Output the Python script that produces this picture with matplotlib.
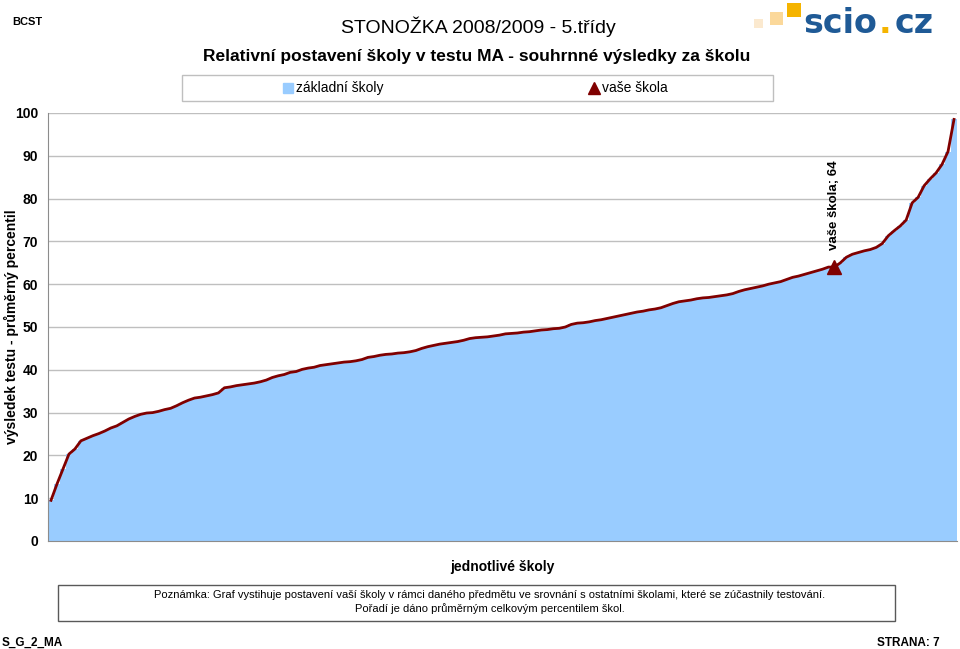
import matplotlib.pyplot as plt
from matplotlib.patches import Rectangle
from matplotlib.lines import Line2D

# average percentile of each school, sorted ascending
schools = [
    9.5, 13.3, 16.8, 20.3, 21.5, 23.4, 24.0, 24.6, 25.1, 25.7,
    26.4, 26.9, 27.7, 28.5, 29.1, 29.6, 29.9, 30.0, 30.3, 30.7,
    31.0, 31.6, 32.3, 32.9, 33.4, 33.6, 33.9, 34.2, 34.6, 35.8,
    36.0, 36.3, 36.5, 36.7, 36.9, 37.2, 37.6, 38.2, 38.6, 38.9,
    39.4, 39.6, 40.1, 40.4, 40.6, 41.0, 41.2, 41.4, 41.6, 41.8,
    41.9, 42.1, 42.4, 42.9, 43.1, 43.4, 43.6, 43.7, 43.9, 44.0,
    44.2, 44.5, 45.0, 45.4, 45.7, 46.0, 46.2, 46.4, 46.6, 46.9,
    47.3, 47.5, 47.6, 47.7, 47.9, 48.1, 48.4, 48.5, 48.6, 48.8,
    48.9, 49.1, 49.3, 49.4, 49.6, 49.7, 50.0, 50.6, 50.9, 51.0,
    51.2, 51.5, 51.7, 52.0, 52.3, 52.6, 52.9, 53.2, 53.5, 53.7,
    54.0, 54.2, 54.5, 55.0, 55.5, 55.9, 56.1, 56.3, 56.6, 56.8,
    56.9, 57.1, 57.3, 57.5, 57.8, 58.3, 58.7, 59.0, 59.3, 59.6,
    60.0, 60.3, 60.6, 61.1, 61.6, 61.9, 62.3, 62.7, 63.1, 63.5,
    64.0, 64.0, 65.0, 66.3, 67.0, 67.4, 67.8, 68.1, 68.6, 69.5,
    71.3, 72.5, 73.6, 75.0, 79.0, 80.3, 83.0, 84.6, 86.0, 88.0,
    91.0, 98.5,
]
my_index = 131
my_value = 64
yticks = [0, 10, 20, 30, 40, 50, 60, 70, 80, 90, 100]

blue = '#99CCFF'
dark_red = '#800000'
arial = ['Liberation Sans', 'DejaVu Sans']

fig = plt.figure(figsize=(9.6, 6.49), dpi=100)
ax = fig.add_axes([48 / 960, 1 - 541 / 649, 909 / 960, 428 / 649])

x = range(len(schools))
ax.bar(x, schools, width=1.0, color=blue, linewidth=0)
ax.plot(x, schools, color=dark_red, linewidth=2.0, zorder=3)
ax.plot([my_index], [my_value], marker='^', color=dark_red, markersize=10,
        linestyle='none', zorder=4)
ax.text(my_index, my_value + 4, f'vaše škola; {my_value}', rotation=90,
        ha='center', va='bottom', fontsize=9.5, fontweight='bold',
        family=arial)

ax.set_xlim(-0.5, len(schools) - 0.5)
ax.set_ylim(0, 100)
ax.set_yticks(yticks)
ax.set_yticklabels([str(t) for t in yticks], fontsize=10, fontweight='bold',
                   family=arial)
ax.set_xticks([])
ax.tick_params(axis='y', length=0, pad=7)
ax.grid(axis='y', color='#BFBFBF', linewidth=1)
ax.set_axisbelow(True)
for side in ['top', 'right']:
    ax.spines[side].set_visible(False)
for side in ['left', 'bottom']:
    ax.spines[side].set_color('#8C8C8C')
ax.set_ylabel('výsledek testu - průměrný percentil', fontsize=10,
              fontweight='bold', family=arial)
ax.yaxis.set_label_coords(-0.032, 0.5)
ax.set_xlabel('jednotlivé školy', fontsize=10, fontweight='bold',
              family=arial, labelpad=14)

# header texts
fig.text(12 / 960, 1 - 22 / 649, 'BCST', fontsize=8, fontweight='bold',
         family=arial, va='center')
fig.text(478 / 960, 1 - 27 / 649, 'STONOŽKA 2008/2009 - 5.třídy', fontsize=14,
         family=arial, ha='center', va='center')
fig.text(477 / 960, 1 - 57 / 649,
         'Relativní postavení školy v testu MA - souhrnné výsledky za školu',
         fontsize=12.5, fontweight='bold', family=arial, ha='center',
         va='center')

# legend box
fig.patches.append(Rectangle((182 / 960, 1 - 101 / 649), 591 / 960, 26 / 649,
                             transform=fig.transFigure, facecolor='white',
                             edgecolor='#BFBFBF', linewidth=1))
fig.lines.append(Line2D([288 / 960], [1 - 88 / 649], marker='s', color=blue,
                        markersize=7, transform=fig.transFigure))
fig.text(296 / 960, 1 - 88 / 649, 'základní školy', fontsize=10,
         family=arial, va='center')
fig.lines.append(Line2D([594 / 960], [1 - 88 / 649], marker='^', color=dark_red,
                        markersize=8, transform=fig.transFigure))
fig.text(602 / 960, 1 - 88 / 649, 'vaše škola', fontsize=10,
         family=arial, va='center')

# scio.cz logo
for (lx, ly, s, c) in [(754, 19, 9, '#FBE9CF'), (770, 12, 13, '#FBD89A'),
                       (787, 3, 14, '#F5B400')]:
    fig.patches.append(Rectangle((lx / 960, 1 - (ly + s) / 649), s / 960, s / 649,
                                 transform=fig.transFigure, facecolor=c,
                                 edgecolor='none'))
fig.text(803 / 960, 1 - 33 / 649, 'scio', fontsize=24, fontweight='bold',
         color='#1F5A96', family='DejaVu Sans', va='baseline')
fig.text(879 / 960, 1 - 33 / 649, '.', fontsize=24, fontweight='bold',
         color='#F5B400', family='DejaVu Sans', va='baseline')
fig.text(895 / 960, 1 - 33 / 649, 'cz', fontsize=24, fontweight='bold',
         color='#1F5A96', family='DejaVu Sans', va='baseline')

# note box
fig.patches.append(Rectangle((58 / 960, 1 - 621 / 649), 837 / 960, 36 / 649,
                             transform=fig.transFigure, facecolor='white',
                             edgecolor='#595959', linewidth=1))
fig.text(490 / 960, 1 - 595 / 649,
         'Poznámka: Graf vystihuje postavení vaší školy v rámci daného předmětu '
         've srovnání s ostatními školami, které se zúčastnily testování.',
         fontsize=8, family=arial, ha='center', va='center')
fig.text(490 / 960, 1 - 609 / 649,
         'Pořadí je dáno průměrným celkovým percentilem škol.',
         fontsize=8, family=arial, ha='center', va='center')

# footer
fig.text(2 / 960, 1 - 643 / 649, 'S_G_2_MA', fontsize=8.5, fontweight='bold',
         family=arial, va='center')
fig.text(940 / 960, 1 - 643 / 649, 'STRANA: 7', fontsize=8.5, fontweight='bold',
         family=arial, ha='right', va='center')

fig.savefig('out.png', dpi=100)
